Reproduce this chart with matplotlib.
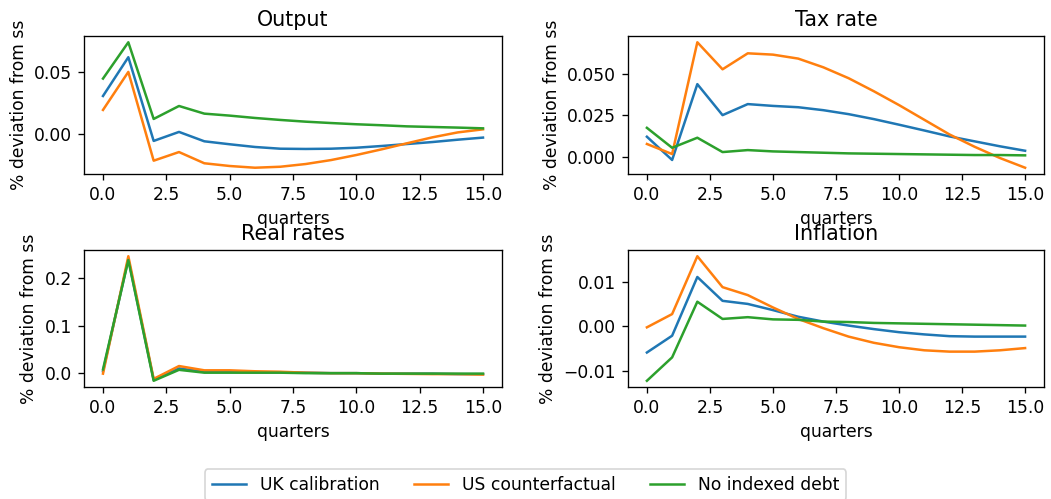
import numpy as np
import matplotlib
matplotlib.use('Agg')
import matplotlib.pyplot as plt

quarters = np.arange(16)
labels = ['UK calibration', 'US counterfactual', 'No indexed debt']
titles = ['Output', 'Tax rate', 'Real rates', 'Inflation']

# output
output_uk = [0.0305, 0.0619, -0.0059, 0.0014, -0.0062, -0.0086, -0.0108, -0.0122,
             -0.0124, -0.0122, -0.0114, -0.0100, -0.0084, -0.0068, -0.0049, -0.0032]
output_us = [0.0192, 0.0500, -0.0219, -0.0149, -0.0240, -0.0262, -0.0276, -0.0268,
             -0.0246, -0.0214, -0.0173, -0.0127, -0.0078, -0.0030, 0.0010, 0.0035]
output_ni = [0.0446, 0.0740, 0.0119, 0.0224, 0.0162, 0.0146, 0.0127, 0.0111,
             0.0097, 0.0086, 0.0076, 0.0068, 0.0059, 0.0054, 0.0049, 0.0043]

# tax rate
tax_uk = [0.0121, -0.0020, 0.0440, 0.0252, 0.0319, 0.0308, 0.0300, 0.0282,
          0.0258, 0.0228, 0.0194, 0.0159, 0.0123, 0.0093, 0.0063, 0.0036]
tax_us = [0.0077, 0.0016, 0.0694, 0.0530, 0.0627, 0.0619, 0.0595, 0.0542,
          0.0476, 0.0397, 0.0313, 0.0224, 0.0135, 0.0060, -0.0008, -0.0067]
tax_ni = [0.0175, 0.0054, 0.0115, 0.0028, 0.0040, 0.0032, 0.0028, 0.0024,
          0.0020, 0.0018, 0.0016, 0.0014, 0.0012, 0.0010, 0.0010, 0.0008]

# real rates
rr_uk = [0.004, 0.240, -0.014, 0.010, 0.003, 0.003, 0.002, 0.002,
         0.001, 0.000, 0.000, -0.001, -0.001, -0.001, -0.002, -0.002]
rr_us = [-0.001, 0.246, -0.012, 0.015, 0.006, 0.006, 0.004, 0.003,
         0.001, 0.000, 0.000, -0.001, -0.0015, -0.002, -0.002, -0.003]
rr_ni = [0.008, 0.238, -0.016, 0.007, 0.001, 0.001, 0.001, 0.001,
         0.000, 0.000, 0.000, -0.001, -0.001, -0.001, -0.001, -0.001]

# inflation
inf_uk = [-0.0059, -0.0021, 0.0112, 0.0058, 0.0051, 0.0037, 0.0022, 0.0011,
          0.0002, -0.0006, -0.0013, -0.0018, -0.0022, -0.0023, -0.0023, -0.0023]
inf_us = [-0.0002, 0.0028, 0.0159, 0.0089, 0.0071, 0.0043, 0.0017, -0.0004,
          -0.0023, -0.0037, -0.0047, -0.0054, -0.0057, -0.0057, -0.0054, -0.0049]
inf_ni = [-0.0123, -0.0070, 0.0056, 0.0017, 0.0021, 0.0016, 0.0015, 0.0011,
          0.0010, 0.0008, 0.0007, 0.0006, 0.0005, 0.0004, 0.0003, 0.0002]

series = [
    (output_uk, output_us, output_ni),
    (tax_uk, tax_us, tax_ni),
    (rr_uk, rr_us, rr_ni),
    (inf_uk, inf_us, inf_ni),
]

plt.rcParams['font.size'] = 10.3

W, H = 1051, 499
dpi = 120
fig, axes = plt.subplots(2, 2, figsize=(W / dpi, H / dpi), dpi=dpi)

# axes boxes in pixels: (x0, x1) per column, (y_top, y_bottom) per row
cols = [(84, 502), (628, 1044)]
rows = [(36, 174), (250, 387)]
for i in range(2):
    for j in range(2):
        x0, x1 = cols[j]
        yt, yb = rows[i]
        axes[i, j].set_position([x0 / W, 1 - yb / H, (x1 - x0) / W, (yb - yt) / H])

for ax, title, data in zip(axes.flat, titles, series):
    for vals, lab in zip(data, labels):
        ax.plot(quarters, vals, label=lab)
    ax.set_title(title)
    ax.set_xlabel('quarters')
    ax.set_ylabel('% deviation from ss')

handles, labs = axes[0, 0].get_legend_handles_labels()
fig.legend(handles, labs, loc='center', bbox_to_anchor=(0.5, 0.028), ncol=3)

plt.savefig('out.png', dpi=dpi)
